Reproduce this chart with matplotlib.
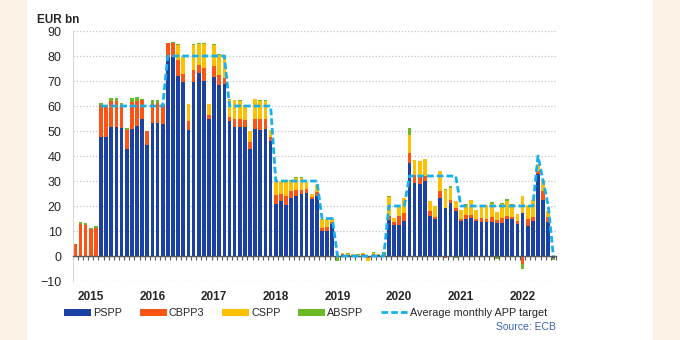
# app_purchases.py

import matplotlib
matplotlib.use("Agg")
import matplotlib.pyplot as plt
from matplotlib.patches import Patch, Rectangle
from matplotlib.lines import Line2D
import numpy as np

plt.rcParams['font.family'] = ['Liberation Sans', 'DejaVu Sans']

# Monthly net purchases under the APP, Oct 2014 - Jul 2022 (EUR bn)
pspp = [0, 0, 0, 0, 0,
        47.6, 47.8, 51.6, 51.6, 51.2, 42.9, 50.9, 52.1, 54.9, 44.5,
        53.2, 53.4, 52.9, 79.7, 79.5, 72.0, 69.5, 50.5, 69.8, 73.1, 70.2, 55.0,
        71.5, 68.5, 68.7, 54.2, 51.6, 51.6, 51.8, 42.8, 50.9, 50.5, 50.9, 46.0,
        21.0, 21.9, 20.6, 23.3, 24.0, 25.0, 25.2, 22.8, 24.0, 10.0, 10.0, 12.8,
        0.3, 0.6, 0.3, 0.2, -0.5, 0.5, -0.3, 0.4, 0.3, 0.2, 14.6, 12.6,
        12.6, 14.0, 37.2, 29.3, 29.0, 29.9, 16.2, 14.9, 23.3, 19.2, 21.2, 17.9,
        14.0, 14.9, 15.3, 14.2, 13.8, 13.5, 13.8, 13.3, 13.2, 15.0, 14.7, 12.8,
        17.2, 11.9, 14.0, 32.8, 22.6, 13.6, -0.8]
cbpp3 = [4.7, 13.0, 12.4, 10.8, 11.2,
         12.8, 12.2, 10.4, 10.4, 9.3, 7.6, 10.7, 10.1, 7.5, 5.6,
         7.8, 7.8, 7.6, 5.6, 5.8, 6.4, 3.2, 3.6, 4.6, 3.3, 4.9, 1.5,
         4.5, 3.9, 2.4, 1.6, 3.3, 3.3, 2.6, 2.8, 4.0, 4.4, 4.0, 1.8,
         3.3, 3.1, 3.3, 2.9, 2.5, 1.5, 1.5, 0.9, 1.5, 1.2, 1.6, 0.7,
         0.2, 0.2, -0.3, 0.3, 0.2, 0.3, -0.6, 0.5, 0.2, 0.1, 1.6, 1.0,
         3.4, 3.3, 4.0, 3.3, 2.5, 2.0, 1.7, 0.8, 2.6, -0.9, 1.2, 1.3,
         0.9, 1.7, 1.3, 0.8, 1.3, 1.5, 2.0, 1.0, 2.0, 1.0, 0.8, 1.1,
         -3.3, 2.8, 1.5, 1.2, 3.3, 2.1, 0.0]
cspp = [0, 0, 0, 0, 0,
        0, 0, 0, 0, 0, 0, 0, 0, 0, 0,
        0, 0, 0, 0, 0, 6.0, 6.8, 6.6, 9.9, 8.5, 9.8, 4.3,
        8.3, 8.0, 9.4, 6.5, 7.5, 7.0, 5.6, 4.5, 8.0, 7.0, 7.0, 2.6,
        5.6, 4.9, 6.3, 4.0, 4.7, 4.6, 2.8, 1.3, 3.0, 3.7, 3.3, 1.0,
        0.3, 0.5, 0.6, 0.4, 0.3, 0.6, -1.2, 0.5, 0.4, 0.3, 7.3, 1.7,
        3.5, 6.0, 7.3, 6.0, 6.4, 6.9, 4.3, 4.2, 8.3, 7.2, 4.8, 2.7,
        3.7, 3.8, 5.7, 3.5, 4.5, 5.4, 5.2, 3.5, 5.6, 5.9, 4.7, 2.8,
        6.8, 5.6, 6.8, 3.0, 4.7, 2.3, 0.2]
abspp = [0, 0.5, 0.8, 0.5, 0.7,
         0.8, 0.3, 1.2, 1.4, 0.7, 0.9, 1.6, 1.4, 0.4, 0,
         1.5, 1.1, 0.5, 0, 0.2, 0.3, 0, 0, 0.4, 0.4, 0.4, 0,
         0.4, 0.3, 0, 0.4, 0, 0.4, 0.3, 0, 0, 0.4, 0.4, 0,
         0, 0, 0.4, 0.4, 0.5, 0.4, 0, 0, 0, 0, 0, 0.5,
         -1.8, 0.1, 0.2, -0.4, 0.2, -0.3, 0.2, 0.1, -0.3, 1.2, 0.7, 0,
         0, 0, 2.7, 0, 0, 0, 0, 0, 0, 0.6, 0.8, -0.6,
         -0.5, 0.6, 0, 0, 0.3, 0.2, 0.7, -1.3, 0.3, 1.1, 0.8, 0,
         -1.8, 0, 0.2, 0, 0, 0, -0.8]

# Average monthly APP target (no target before March 2015)
app_target = ([np.nan] * 5 + [60] * 13 + [80] * 12 + [60] * 9 + [30] * 9
              + [15] * 3 + [0] * 10 + [20] * 4 + [32] * 10 + [20] * 15
              + [40, 30, 20, 0])

years = ['2015', '2016', '2017', '2018', '2019', '2020', '2021', '2022']
first_january = 3     # Oct 2014 is the first month shown

series_names = ['PSPP', 'CBPP3', 'CSPP', 'ABSPP']
series_colors = ['#1b42a3', '#fb5414', '#ffc000', '#6bb924']
target_color = '#18b0ea'
target_name = 'Average monthly APP target'

background = '#fcf2e6'


def draw_stacked_bars(ax, x, series, colors):
    # Positive and negative parts are stacked separately from zero
    pos_base = np.zeros(len(x))
    neg_base = np.zeros(len(x))
    for values, color in zip(series, colors):
        values = np.asarray(values, dtype=float)
        base = np.where(values >= 0, pos_base, neg_base)
        ax.bar(x, values, bottom=base, width=0.72, color=color,
               linewidth=0, zorder=2)
        pos_base += np.clip(values, 0, None)
        neg_base += np.clip(values, None, 0)


def draw_chart():
    fig = plt.figure(figsize=(6.8, 3.4), dpi=100, facecolor=background)
    # White panel behind the chart
    fig.patches.append(Rectangle((27 / 680, 0), 626 / 680, 1,
                                 transform=fig.transFigure,
                                 facecolor='white', edgecolor='none', zorder=-5))

    ax = fig.add_axes([0.1069, 0.1735, 0.7107, 0.7353])
    ax.set_facecolor('none')

    n = len(pspp)
    x = np.arange(n)
    draw_stacked_bars(ax, x, [pspp, cbpp3, cspp, abspp], series_colors)

    ax.plot(x, app_target, color=target_color, lw=2.0,
            linestyle=(0, (2.4, 1.1)), zorder=4)

    ax.set_xlim(-0.5, n - 0.5)
    ax.set_ylim(-10, 90)
    ax.set_yticks(np.arange(-10, 91, 10))
    ax.tick_params(axis='y', length=0, pad=8, labelsize=9, labelcolor='#262626')

    # Horizontal axis crosses at zero with a tick between every month
    ax.spines['bottom'].set_position(('data', 0))
    ax.spines['bottom'].set_color('#595959')
    ax.spines['bottom'].set_linewidth(1.0)
    ax.spines['bottom'].set_zorder(3)
    ax.set_xticks(np.arange(-0.5, n, 1.0))
    ax.set_xticklabels([])
    ax.tick_params(axis='x', direction='out', length=3, width=0.8,
                   color='#595959')
    ax.spines['left'].set_color('#d9d9d9')
    ax.spines['top'].set_visible(False)
    ax.spines['right'].set_visible(False)

    ax.yaxis.grid(True, linestyle=(0, (1, 1.6)), color='#c4c4c4', lw=0.9)
    ax.set_axisbelow(True)

    for k, year in enumerate(years):
        ax.text(first_january + 12 * k, -16.4, year, ha='center', va='center',
                fontsize=8.5, fontweight='bold', color='#262626', clip_on=False)

    fig.text(37 / 680, 0.941, 'EUR bn', ha='left', va='center',
             fontsize=8.5, fontweight='bold', color='#262626')

    handles = [Patch(facecolor=c, edgecolor='none') for c in series_colors]
    handles.append(Line2D([], [], color=target_color, lw=2.0,
                          linestyle=(0, (2.4, 1.1))))
    fig.legend(handles, series_names + [target_name], loc='center left',
               bbox_to_anchor=(64 / 680, 1 - 313 / 340), ncol=5, frameon=False,
               fontsize=7.8, handlelength=2.5, handleheight=0.6,
               handletextpad=0.2, columnspacing=1.6, borderaxespad=0,
               borderpad=0, labelcolor='#262626')

    fig.text(556 / 680, 1 - 327 / 340, 'Source: ECB', ha='right', va='center',
             fontsize=7.5, color='#3a63b6')

    return fig


if __name__ == "__main__":
    fig = draw_chart()
    fig.savefig('out.png', dpi=100, facecolor=background)
